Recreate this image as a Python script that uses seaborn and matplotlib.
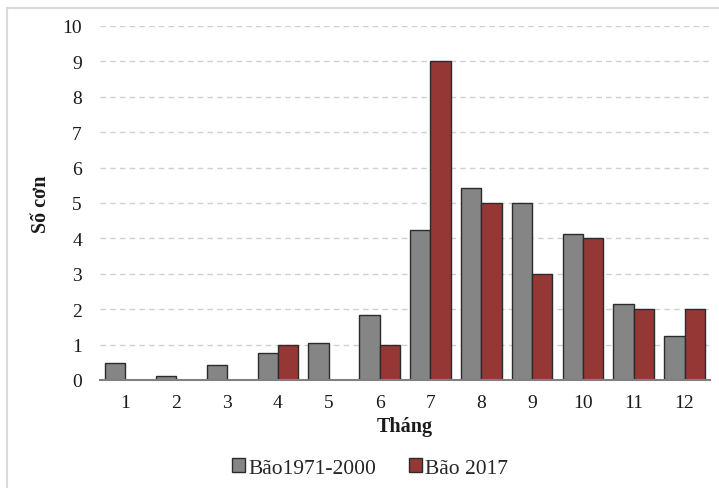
import matplotlib
matplotlib.use("Agg")
import matplotlib.pyplot as plt
import seaborn as sns
import pandas as pd
from matplotlib.lines import Line2D
from matplotlib.patches import Patch

months = ["1", "2", "3", "4", "5", "6", "7", "8", "9", "10", "11", "12"]
storms_1971_2000 = [0.48, 0.11, 0.42, 0.75, 1.04, 1.84, 4.24, 5.43, 5.0, 4.12, 2.14, 1.24]
storms_2017 = [0, 0, 0, 1, 0, 1, 9, 5, 3, 4, 2, 2]
series_names = ["Bão1971-2000", "Bão 2017"]
series_colors = ["#858585", "#953735"]

df = pd.DataFrame({
    "Tháng": months * 2,
    "Số cơn": storms_1971_2000 + storms_2017,
    "Chuỗi": [series_names[0]] * 12 + [series_names[1]] * 12,
})

sns.set_theme(style="white")
plt.rcParams["font.family"] = ["Liberation Serif", "DejaVu Serif"]

fig = plt.figure(figsize=(7.19, 4.89), dpi=100)
ax = fig.add_axes([100 / 719, (489 - 381) / 489, 610 / 719, (381 - 27) / 489])

sns.barplot(data=df, x="Tháng", y="Số cơn", hue="Chuỗi", order=months,
            hue_order=series_names, palette=series_colors, width=0.8,
            edgecolor="#2b2b2b", linewidth=1.0, saturation=1, ax=ax,
            legend=False)

ax.set_ylim(0, 10)
ax.set_xlim(-0.5, 11.5)
ax.set_yticks(range(0, 11))
ax.yaxis.grid(True, linestyle=(0, (4, 3)), color="#d0d0d0", linewidth=1.0)
ax.set_axisbelow(True)
for side in ["left", "right", "top"]:
    ax.spines[side].set_visible(False)
ax.spines["bottom"].set_color("#808080")
ax.spines["bottom"].set_linewidth(1.5)
ax.tick_params(axis="both", length=0, labelsize=14, colors="#1a1a1a")
ax.tick_params(axis="x", pad=10)
ax.tick_params(axis="y", pad=13)

ax.set_xlabel("Tháng", fontsize=14.5, fontweight="bold", labelpad=4, color="#1a1a1a")
ax.set_ylabel("Số cơn", fontsize=14.5, fontweight="bold", labelpad=8, color="#1a1a1a")

handles = [Patch(facecolor=c, edgecolor="#2b2b2b", linewidth=1.0) for c in series_colors]
fig.legend(handles, series_names, loc="center", bbox_to_anchor=(370 / 719, 1 - 469 / 489),
           ncol=2, frameon=False, fontsize=15.5, handlelength=0.6, handleheight=0.6,
           handletextpad=0.15, columnspacing=1.5)

# light frame around the figure
fig.add_artist(Line2D([7 / 719, 1], [1 - 9 / 489, 1 - 9 / 489], transform=fig.transFigure,
                      color="#d9d9d9", linewidth=1.5))
fig.add_artist(Line2D([7 / 719, 7 / 719], [0, 1 - 9 / 489], transform=fig.transFigure,
                      color="#d9d9d9", linewidth=1.5))

fig.savefig("out.png", dpi=100)
